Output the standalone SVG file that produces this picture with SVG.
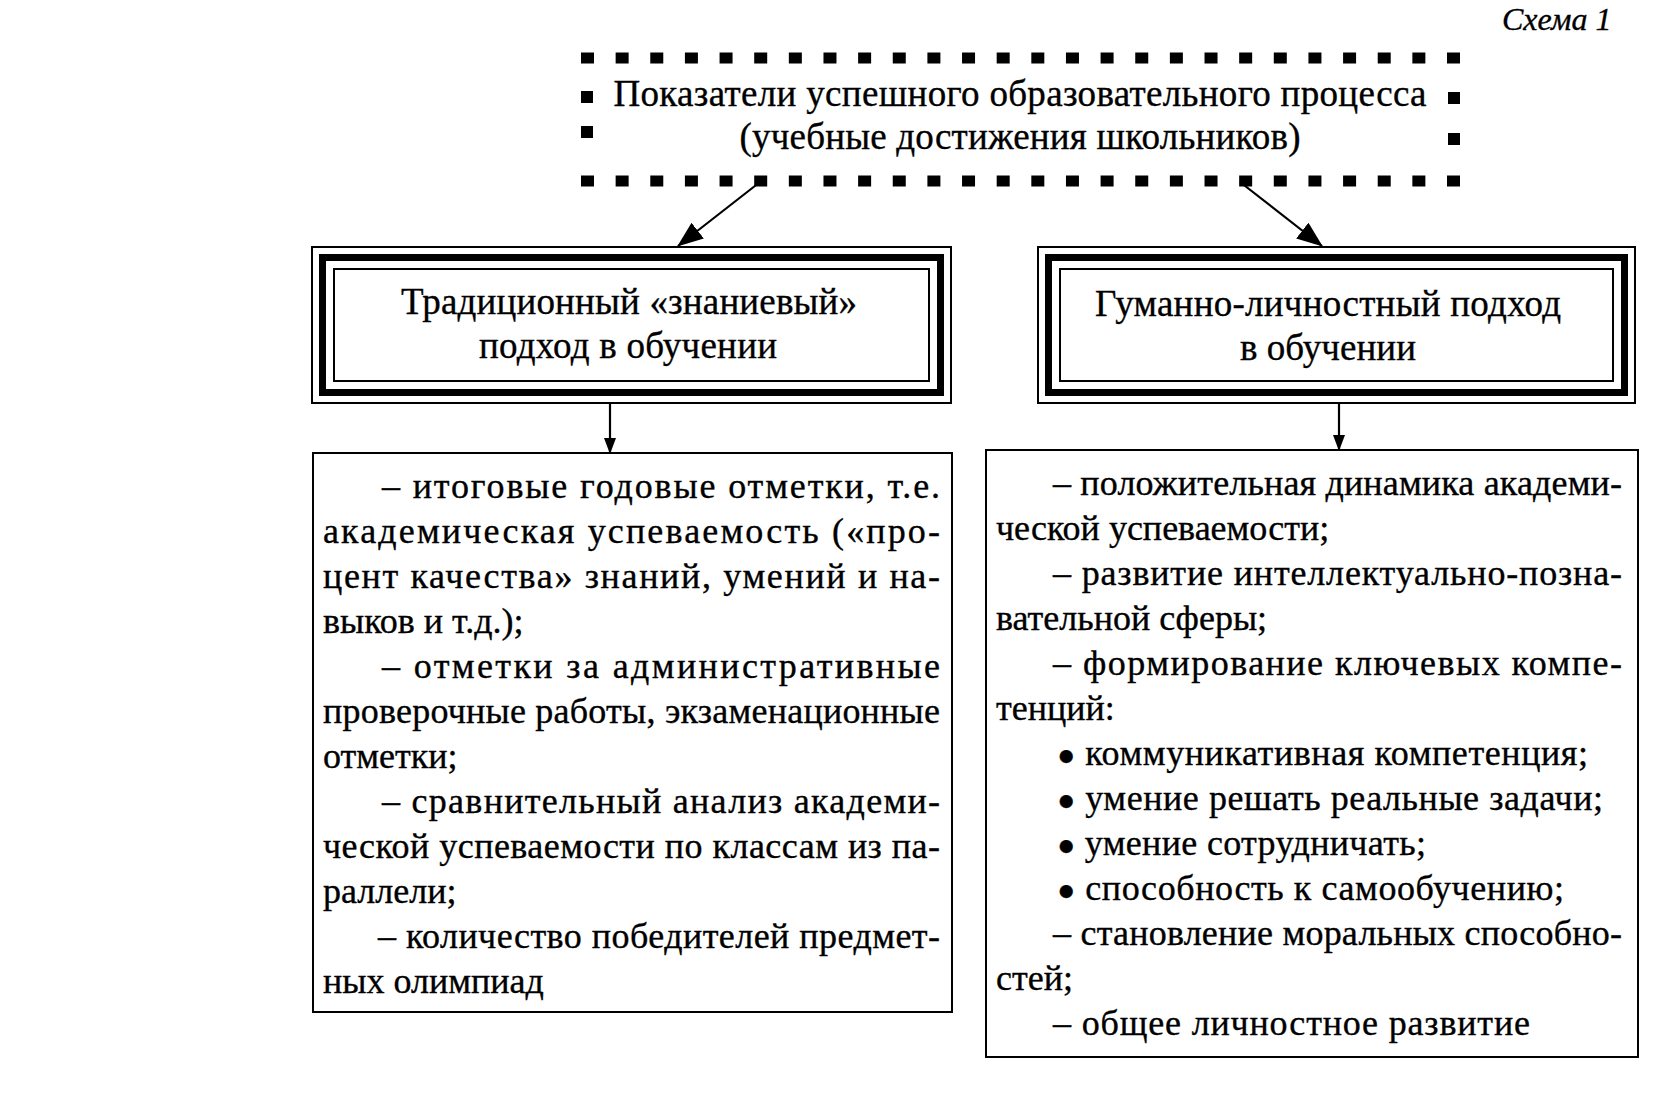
<svg xmlns="http://www.w3.org/2000/svg" width="1663" height="1094" viewBox="0 0 1663 1094">
<style>
text{font-family:"Liberation Serif","Times New Roman",serif;fill:#000;stroke:#000;stroke-width:0.35}
.h{font-size:37px;text-anchor:middle}
.b{font-size:36px}
.thin{fill:none;stroke:#000;stroke-width:2}
.band{fill:none;stroke:#000;stroke-width:7}
.dash{fill:#000}
.conn{stroke:#000;stroke-width:2.2;fill:none}
.bul{font-size:30px}
</style>
<defs>
<marker id="ah" viewBox="0 0 26 20" refX="25" refY="10" markerWidth="26" markerHeight="20" markerUnits="userSpaceOnUse" orient="auto">
<path d="M0,0 L26,10 L0,20 z" fill="#000"/>
</marker>
<marker id="ahs" viewBox="0 0 16 12" refX="15" refY="6" markerWidth="16" markerHeight="12" markerUnits="userSpaceOnUse" orient="auto">
<path d="M0,0 L16,6 L0,12 z" fill="#000"/>
</marker>
</defs>
<rect width="1663" height="1094" fill="#fff"/>
<text x="1502" y="30" style="font-size:32px;font-style:italic">Схема 1</text>

<g id="top">
<line x1="581" y1="58" x2="1460" y2="58" stroke="#000" stroke-width="11" stroke-dasharray="13 21.64"/>
<line x1="581" y1="181" x2="1460" y2="181" stroke="#000" stroke-width="11" stroke-dasharray="13 21.64"/>
<rect class="dash" x="581" y="91" width="12" height="12"/>
<rect class="dash" x="581" y="126" width="12" height="12"/>
<rect class="dash" x="1448" y="92" width="12" height="12"/>
<rect class="dash" x="1448" y="133" width="12" height="12"/>
<text class="h" x="1020" y="106" textLength="813">Показатели успешного образовательного процесса</text>
<text class="h" x="1020" y="149" textLength="561">(учебные достижения школьников)</text>
</g>

<g id="left-approach">
<rect class="thin" x="312" y="247" width="639" height="156"/>
<rect class="band" x="322.5" y="257.5" width="618" height="135"/>
<rect class="thin" x="334" y="269" width="595" height="112"/>
<text class="h" x="629" y="314" textLength="456">Традиционный «знаниевый»</text>
<text class="h" x="628" y="358" textLength="298">подход в обучении</text>
</g>

<g id="right-approach">
<rect class="thin" x="1038" y="247" width="597" height="156"/>
<rect class="band" x="1048.5" y="257.5" width="576" height="135"/>
<rect class="thin" x="1060" y="269" width="553" height="112"/>
<text class="h" x="1328" y="316" textLength="466">Гуманно-личностный подход</text>
<text class="h" x="1328" y="360" textLength="176">в обучении</text>
</g>

<g id="left-list">
<rect class="thin" x="313" y="453" width="639" height="559"/>
<text class="b" x="382" y="498" textLength="558">– итоговые годовые отметки, т.е.</text>
<text class="b" x="323" y="543" textLength="617">академическая успеваемость («про-</text>
<text class="b" x="323" y="588" textLength="617">цент качества» знаний, умений и на-</text>
<text class="b" x="323" y="633">выков и т.д.);</text>
<text class="b" x="382" y="678" textLength="558">– отметки за административные</text>
<text class="b" x="323" y="723" textLength="617">проверочные работы, экзаменационные</text>
<text class="b" x="323" y="768">отметки;</text>
<text class="b" x="382" y="813" textLength="558">– сравнительный анализ академи-</text>
<text class="b" x="323" y="858" textLength="617">ческой успеваемости по классам из па-</text>
<text class="b" x="323" y="903">раллели;</text>
<text class="b" x="378" y="948" textLength="562">– количество победителей предмет-</text>
<text class="b" x="323" y="993">ных олимпиад</text>
</g>

<g id="right-list">
<rect class="thin" x="986" y="450" width="652" height="607"/>
<text class="b" x="1053" y="495" textLength="569">– положительная динамика академи-</text>
<text class="b" x="996" y="540">ческой успеваемости;</text>
<text class="b" x="1053" y="585" textLength="569">– развитие интеллектуально-позна-</text>
<text class="b" x="996" y="630">вательной сферы;</text>
<text class="b" x="1053" y="675" textLength="569">– формирование ключевых компе-</text>
<text class="b" x="996" y="720">тенций:</text>
<text class="b" x="1057" y="765" textLength="531"><tspan class="bul">●</tspan> коммуникативная компетенция;</text>
<text class="b" x="1057" y="810" textLength="546"><tspan class="bul">●</tspan> умение решать реальные задачи;</text>
<text class="b" x="1057" y="855" textLength="369"><tspan class="bul">●</tspan> умение сотрудничать;</text>
<text class="b" x="1057" y="900" textLength="507"><tspan class="bul">●</tspan> способность к самообучению;</text>
<text class="b" x="1053" y="945" textLength="569">– становление моральных способно-</text>
<text class="b" x="996" y="990">стей;</text>
<text class="b" x="1053" y="1035" textLength="477">– общее личностное развитие</text>
</g>

<g id="connectors">
<line class="conn" x1="760" y1="182" x2="678" y2="246" marker-end="url(#ah)"/>
<line class="conn" x1="1240" y1="182" x2="1322" y2="246" marker-end="url(#ah)"/>
<line class="conn" x1="610" y1="404" x2="610" y2="453" marker-end="url(#ahs)"/>
<line class="conn" x1="1339" y1="404" x2="1339" y2="450" marker-end="url(#ahs)"/>
</g>
</svg>
